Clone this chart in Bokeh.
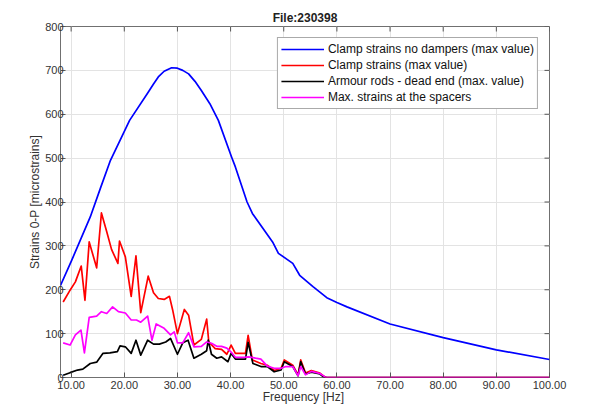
import math
from bokeh.plotting import figure
from bokeh.models import FixedTicker, NumeralTickFormatter, Range1d, Legend
from bokeh.embed import file_html
from bokeh.resources import INLINE

title_text = "File:230398"
x_label = "Frequency  [Hz]"
y_label = "Strains 0-P [microstrains]"
x_ticks = [10, 20, 30, 40, 50, 60, 70, 80, 90, 100]
y_ticks = [0, 100, 200, 300, 400, 500, 600, 700, 800]
x_min, x_max = 8, 100
y_min, y_max = 0, 800

blue_name = "Clamp strains no dampers (max value)"
blue_f = [8.0, 10.1, 13.6, 15.5, 17.4, 21.0, 24.5, 25.5, 26.4, 27.5, 28.9, 30.0, 31.0, 32.1,
          33.3, 34.5, 36.1, 37.7, 40.2, 40.9, 43.1, 44.1, 47.9, 49.0, 51.7, 53.0, 55.5, 58.1,
          60.0, 61.9, 70.0, 80.0, 90.0, 100.0]
blue_v = [210, 267, 366, 431, 495, 586, 650, 669, 685, 698, 706, 705, 700, 692,
          675, 654, 624, 586, 502, 480, 400, 374, 309, 283, 260, 233, 207, 182,
          171, 161, 122, 91, 63, 41]

red_name = "Clamp strains (max value)"
red_f = [8.5, 9.8, 10.8, 11.9, 12.6, 13.4, 14.8, 15.7, 16.7, 17.6, 18.8, 19.1, 20.2, 21.3,
         22.2, 23.1, 24.5, 25.5, 26.4, 27.5, 28.5, 29.1, 30.0, 31.3, 32.1, 33.1, 34.5, 35.5,
         35.9, 37.1, 38.3, 39.3, 40.1, 40.9, 42.8, 43.3, 44.1, 45.7, 46.9, 48.2, 49.5, 50.1,
         51.7, 52.7, 53.2, 54.1, 55.2, 56.8, 57.4, 58.0, 100.0]
red_v = [172, 199, 218, 254, 176, 309, 250, 375, 332, 292, 260, 311, 275, 185,
         277, 148, 231, 193, 180, 178, 185, 154, 100, 155, 142, 74, 87, 133,
         81, 66, 64, 53, 74, 55, 55, 96, 40, 32, 28, 16, 21, 40,
         28, 6, 40, 10, 16, 10, 4, 0, 0]

black_name = "Armour rods - dead end (max. value)"
black_f = [8.5, 9.8, 11.2, 12.2, 13.6, 14.8, 16.0, 17.3, 18.7, 19.2, 20.2, 21.3, 22.2, 23.1,
           24.4, 25.5, 26.6, 27.8, 28.7, 30.0, 31.0, 32.0, 33.1, 34.5, 35.5, 35.8, 36.4, 37.4,
           38.3, 39.5, 40.1, 40.9, 42.8, 43.3, 44.2, 45.7, 46.9, 48.2, 49.5, 50.1, 51.7, 52.7,
           53.2, 54.1, 55.2, 56.8, 57.4, 58.0, 100.0]
black_v = [5, 11, 17, 19, 32, 35, 55, 56, 59, 72, 70, 55, 85, 51,
           85, 76, 76, 81, 89, 53, 79, 85, 44, 53, 61, 85, 53, 44,
           47, 36, 55, 42, 42, 80, 32, 25, 25, 13, 17, 36, 25, 4,
           36, 8, 12, 8, 2, 0, 0]

mag_name = "Max. strains at the spacers"
mag_f = [8.5, 9.8, 10.8, 11.85, 12.5, 13.4, 14.8, 15.7, 16.7, 17.8, 18.9, 20.2, 21.3, 22.3,
         23.1, 24.4, 25.2, 26.0, 27.5, 28.7, 29.4, 30.0, 31.0, 32.1, 33.1, 34.5, 35.5, 36.4,
         37.4, 38.3, 39.3, 40.1, 40.9, 42.5, 43.4, 44.7, 45.7, 46.9, 48.2, 49.5, 50.4, 51.7,
         52.7, 53.2, 54.1, 55.2, 56.8, 57.7, 58.0, 100.0]
mag_v = [79, 74, 97, 108, 56, 137, 140, 150, 146, 161, 150, 147, 131, 131,
         126, 140, 85, 122, 112, 97, 104, 79, 79, 102, 70, 71, 81, 78,
         71, 71, 67, 58, 46, 46, 47, 44, 42, 26, 21, 21, 25, 25,
         4, 25, 6, 14, 9, 2, 0, 0]

FONT = "Liberation Sans"
TXT = "#333333"
TICK = "#555555"

p = figure(width=573, height=406, output_backend="svg", toolbar_location=None,
           x_range=Range1d(x_min, x_max), y_range=Range1d(y_min, y_max),
           min_border_left=60, min_border_right=24, min_border_top=26, min_border_bottom=24)

p.title.text = title_text
p.title.align = "center"
p.title.text_font = FONT
p.title.text_font_size = "12px"
p.title.text_font_style = "bold"
p.title.text_color = "#222222"
p.title.standoff = 4
p.title.offset = 0

p.outline_line_color = "#707070"
p.outline_line_width = 1

for ax in (p.xaxis[0], p.yaxis[0]):
    ax.axis_line_color = None
    ax.major_tick_in = 5
    ax.major_tick_out = 0
    ax.minor_tick_in = 0
    ax.minor_tick_out = 0
    ax.major_tick_line_color = TICK
    ax.minor_tick_line_color = None
    ax.major_label_text_font = FONT
    ax.major_label_text_font_size = "11px"
    ax.major_label_text_color = TXT
    ax.axis_label_text_font = FONT
    ax.axis_label_text_font_size = "12px"
    ax.axis_label_text_font_style = "normal"
    ax.axis_label_text_color = TXT

p.xaxis.major_label_standoff = 3
p.yaxis.major_label_standoff = -3
p.xaxis.axis_label_standoff = -2
p.yaxis.axis_label_standoff = 0
p.xaxis.ticker = FixedTicker(ticks=x_ticks)
p.xaxis.formatter = NumeralTickFormatter(format="0.00")
p.yaxis.ticker = FixedTicker(ticks=y_ticks)
p.xaxis.axis_label = x_label
p.yaxis.axis_label = y_label

p.xgrid.ticker = FixedTicker(ticks=x_ticks)
p.ygrid.ticker = FixedTicker(ticks=y_ticks)
p.grid.grid_line_color = "#e3e3e3"
p.grid.grid_line_width = 1

# inner ticks on the top and right edges of the box (MATLAB "box on")
p.ray(x=x_ticks, y=[y_max] * len(x_ticks), length=5, length_units="screen",
      angle=-math.pi / 2, line_color=TICK, line_width=1)
p.ray(x=[x_max] * len(y_ticks), y=y_ticks, length=5, length_units="screen",
      angle=math.pi, line_color=TICK, line_width=1)

lw = 1.7
r1 = p.line(blue_f, blue_v, line_color="#0000ff", line_width=lw, line_join="round")
r2 = p.line(red_f, red_v, line_color="#ff0000", line_width=lw, line_join="round")
r3 = p.line(black_f, black_v, line_color="#000000", line_width=lw, line_join="round")
r4 = p.line(mag_f, mag_v, line_color="#ff00ff", line_width=lw, line_join="round")

legend = Legend(items=[(blue_name, [r1]), (red_name, [r2]), (black_name, [r3]), (mag_name, [r4])],
                location="top_right")
legend.margin = 11
legend.padding = 3
legend.spacing = 0
legend.label_text_font = FONT
legend.label_text_font_size = "12px"
legend.label_text_color = "#111111"
legend.label_height = 16
legend.glyph_height = 16
legend.glyph_width = 43
legend.label_standoff = 4
legend.border_line_color = "#555555"
legend.border_line_width = 1
legend.background_fill_color = "white"
legend.background_fill_alpha = 1
p.add_layout(legend, "center")

open("out.html", "w").write(file_html(p, INLINE))
